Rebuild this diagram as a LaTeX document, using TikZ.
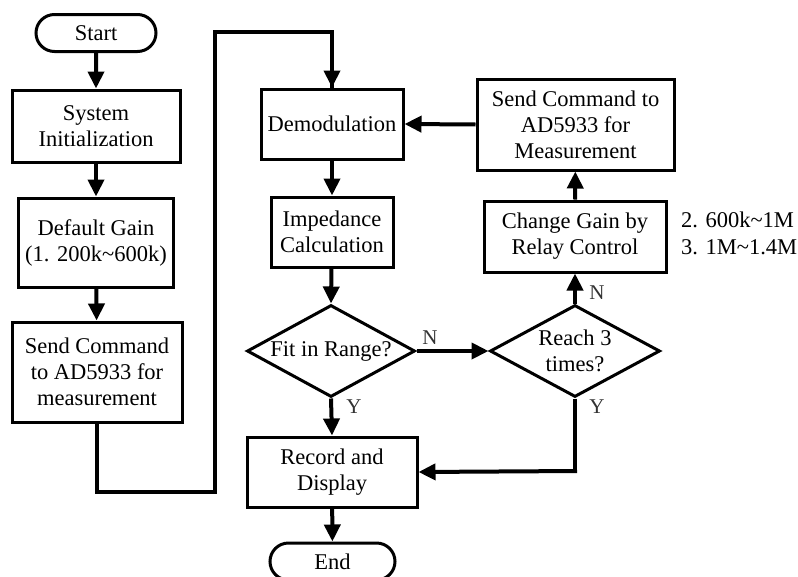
\documentclass[tikz,border=0pt]{standalone}
\usepackage{fontspec}
\setmainfont{Liberation Serif}
\usetikzlibrary{shapes.geometric,shapes.misc,arrows.meta}
\begin{document}
\begin{tikzpicture}[x=1pt,y=-1pt,
  every node/.style={font=\fontsize{22.5}{26}\selectfont, align=center, inner sep=0pt},
  box/.style={draw, line width=3pt, rectangle},
  term/.style={draw, line width=3pt, rounded rectangle},
  dec/.style={draw, line width=3pt, diamond},
  lbl/.style={font=\fontsize{21}{24}\selectfont, text=black!80},
  flow/.style={line width=4pt, -{Triangle[width=16pt,length=17pt]}},
  plain/.style={line width=4pt, line join=miter}]
\useasboundingbox (0,0) rectangle (798,576);
\node[term, minimum width=120pt, minimum height=37pt] (start) at (96,33) {Start};
\node[box, minimum width=168pt, minimum height=72pt] (sys) at (96,126) {System\\Initialization};
\node[box, minimum width=155pt, minimum height=89pt] (gain) at (96,242.5) {Default Gain\\(1. 200k\textasciitilde600k)};
\node[box, minimum width=170pt, minimum height=100pt] (sendL) at (97,372) {Send Command\\to AD5933 for\\measurement};
\node[box, minimum width=142pt, minimum height=70pt] (demod) at (332,124) {Demodulation};
\node[box, minimum width=122pt, minimum height=70pt] (imp) at (332,232) {Impedance\\Calculation};
\node[box, minimum width=197pt, minimum height=91pt] (sendR) at (575.5,124.5) {Send Command to\\AD5933 for\\Measurement};
\node[box, minimum width=182pt, minimum height=71pt] (chg) at (575,236.5) {Change Gain by\\Relay Control};
\node[dec, minimum width=168pt, minimum height=92pt] (fit) at (331,351) {};
\node at (331,351) {Fit in Range?};
\node[dec, minimum width=170pt, minimum height=92pt] (reach) at (575,351) {};
\node at (575,351) {Reach 3\\times?};
\node[box, minimum width=170pt, minimum height=70pt] (rec) at (332,472) {Record and\\Display};
\node[term, minimum width=125pt, minimum height=37pt] (end) at (332.5,561.5) {End};
\node[anchor=west, align=left] (g2) at (681,220) {2. 600k\textasciitilde1M};
\node[anchor=west, align=left] (g3) at (681,247) {3. 1M\textasciitilde1.4M};
\coordinate (c1) at (97,492);
\coordinate (c2) at (215,492);
\coordinate (c3) at (215,32);
\coordinate (c4) at (332,32);
\coordinate (c5) at (575,471);
\draw[flow] (start) -- (sys);
\draw[flow] (sys) -- (gain);
\draw[flow] (gain) -- (sendL);
\draw[plain] (sendL.south) -- (c1) -- (c2) -- (c3) -- (c4) -- (c4 |- demod.north);
\draw[flow] ([yshift=-2pt]c4) -- (demod.north);
\draw[flow] (sendR.west) -- (demod.east);
\draw[flow] (demod) -- (imp);
\draw[flow] (imp) -- (fit.north);
\draw[flow] (fit.east) -- (reach.west);
\draw[flow] (fit.south) -- (rec.north);
\draw[flow] (reach.north) -- (chg.south);
\draw[flow] (chg) -- (sendR);
\draw[plain] (reach.south) -- (c5);
\draw[flow] ([xshift=2pt]c5) -- (rec.east);
\draw[flow] (rec) -- (end);
\node[lbl] (n1) at (430,338) {N};
\node[lbl] (y1) at (354,407) {Y};
\node[lbl] (n2) at (597,293) {N};
\node[lbl] (y2) at (597,407) {Y};
\end{tikzpicture}
\end{document}
